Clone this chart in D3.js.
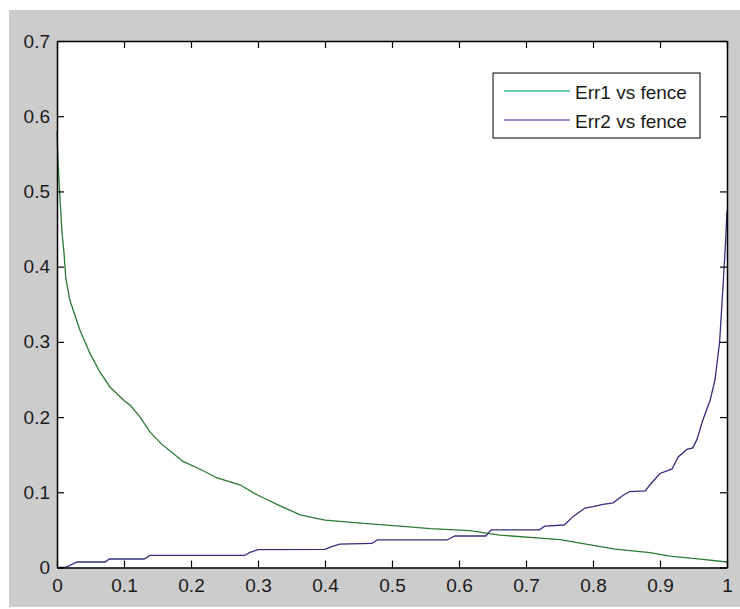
<!DOCTYPE html>
<html>
<head>
<meta charset="utf-8">
<script src="https://cdn.jsdelivr.net/npm/d3@7/dist/d3.min.js"></script>
<style>
  html, body { margin: 0; padding: 0; background: #ffffff; }
  svg { display: block; }
</style>
</head>
<body>
<svg id="chart" width="740" height="609"></svg>
<script>
// ---- Data ----
const err1X = [0, 0.0015, 0.0045, 0.0075, 0.0105, 0.013, 0.019, 0.034, 0.049, 0.064, 0.079, 0.1, 0.11, 0.124, 0.139, 0.155, 0.173, 0.188, 0.213, 0.239, 0.273, 0.3, 0.333, 0.363, 0.4, 0.467, 0.512, 0.557, 0.616, 0.661, 0.721, 0.751, 0.796, 0.833, 0.885, 0.915, 0.96, 1.0];
const err1Y = [0.58, 0.54, 0.49, 0.445, 0.418, 0.386, 0.356, 0.316, 0.285, 0.26, 0.24, 0.222, 0.215, 0.2, 0.18, 0.165, 0.152, 0.141, 0.131, 0.119, 0.11, 0.096, 0.082, 0.07, 0.063, 0.058, 0.055, 0.0516, 0.049, 0.043, 0.039, 0.037, 0.03, 0.0245, 0.0197, 0.015, 0.011, 0.0073];

const err2X = [0, 0.012, 0.03, 0.072, 0.078, 0.13, 0.139, 0.28, 0.288, 0.3, 0.4, 0.41, 0.422, 0.47, 0.478, 0.582, 0.594, 0.64, 0.648, 0.72, 0.728, 0.757, 0.77, 0.788, 0.8, 0.815, 0.83, 0.845, 0.855, 0.878, 0.885, 0.9, 0.918, 0.927, 0.94, 0.949, 0.955, 0.964, 0.975, 0.982, 0.989, 0.994, 0.998, 1.0];
const err2Y = [0, 0, 0.0073, 0.0073, 0.0113, 0.0113, 0.016, 0.016, 0.02, 0.0237, 0.024, 0.0277, 0.031, 0.032, 0.0366, 0.0366, 0.0419, 0.0419, 0.05, 0.05, 0.055, 0.0565, 0.0676, 0.079, 0.081, 0.084, 0.086, 0.096, 0.101, 0.102, 0.11, 0.125, 0.131, 0.147, 0.157, 0.159, 0.17, 0.196, 0.223, 0.249, 0.3, 0.373, 0.435, 0.475];

const xTicks = [0, 0.1, 0.2, 0.3, 0.4, 0.5, 0.6, 0.7, 0.8, 0.9, 1];
const xTickLabels = ["0", "0.1", "0.2", "0.3", "0.4", "0.5", "0.6", "0.7", "0.8", "0.9", "1"];
const yTicks = [0, 0.1, 0.2, 0.3, 0.4, 0.5, 0.6, 0.7];
const yTickLabels = ["0", "0.1", "0.2", "0.3", "0.4", "0.5", "0.6", "0.7"];

const seriesNames = ["Err1 vs fence", "Err2 vs fence"];
const seriesColors = ["#2a7a34", "#30307e"];
const legendColors = ["#3fb58f", "#7472c4"];

// ---- Layout ----
const svg = d3.select("#chart");
const plotL = 57, plotR = 727, plotT = 41, plotB = 567.5;
const FONT = "'Liberation Sans', Arial, sans-serif";

svg.append("rect").attr("x", 9).attr("y", 10).attr("width", 731).attr("height", 597).attr("fill", "#cccccc");
svg.append("rect").attr("x", plotL).attr("y", plotT).attr("width", plotR - plotL).attr("height", plotB - plotT).attr("fill", "#ffffff");

const x = d3.scaleLinear().domain([0, 1]).range([plotL, plotR]);
const y = d3.scaleLinear().domain([0, 0.7]).range([plotB, plotT]);

// ---- Lines ----
const line = d3.line().x(d => x(d[0])).y(d => y(d[1]));
const s1 = err1X.map((v, i) => [v, err1Y[i]]);
const s2 = err2X.map((v, i) => [v, err2Y[i]]);
svg.append("path").datum(s1).attr("d", line).attr("fill", "none").attr("stroke", seriesColors[0]).attr("stroke-width", 1.3);
svg.append("path").datum(s2).attr("d", line).attr("fill", "none").attr("stroke", seriesColors[1]).attr("stroke-width", 1.3);

// ---- Axes ----
function styleAxis(g) {
  g.attr("font-family", FONT).attr("font-size", 19);
  g.selectAll("path.domain").attr("stroke", "#000").attr("stroke-width", 1.5);
  g.selectAll(".tick line").attr("stroke", "#000").attr("stroke-width", 1.2);
  g.selectAll(".tick text").attr("fill", "#1a1a1a");
}
const TL = 7;
svg.append("g").attr("transform", `translate(0,${plotB})`)
  .call(d3.axisBottom(x).tickValues(xTicks).tickFormat((d, i) => xTickLabels[i]).tickSizeInner(-TL).tickSizeOuter(0).tickPadding(11))
  .call(styleAxis);
svg.append("g").attr("transform", `translate(${plotL},0)`)
  .call(d3.axisLeft(y).tickValues(yTicks).tickFormat((d, i) => yTickLabels[i]).tickSizeInner(-TL).tickSizeOuter(0).tickPadding(7))
  .call(styleAxis);
svg.append("g").attr("transform", `translate(0,${plotT})`)
  .call(d3.axisTop(x).tickValues(xTicks).tickFormat("").tickSizeInner(-TL).tickSizeOuter(0))
  .call(styleAxis);
svg.append("g").attr("transform", `translate(${plotR},0)`)
  .call(d3.axisRight(y).tickValues(yTicks).tickFormat("").tickSizeInner(-TL).tickSizeOuter(0))
  .call(styleAxis);

// ---- Legend ----
const lg = svg.append("g");
lg.append("rect").attr("x", 493).attr("y", 73).attr("width", 207).attr("height", 65)
  .attr("fill", "#ffffff").attr("stroke", "#000").attr("stroke-width", 1);
seriesNames.forEach((name, i) => {
  const ly = 91 + i * 29;
  lg.append("line").attr("x1", 504).attr("x2", 570).attr("y1", ly).attr("y2", ly)
    .attr("stroke", legendColors[i]).attr("stroke-width", 1.5);
  lg.append("text").attr("x", 575).attr("y", ly + 8).attr("font-family", FONT).attr("font-size", 19)
    .attr("fill", "#1a1a1a").text(name);
});
</script>
</body>
</html>
